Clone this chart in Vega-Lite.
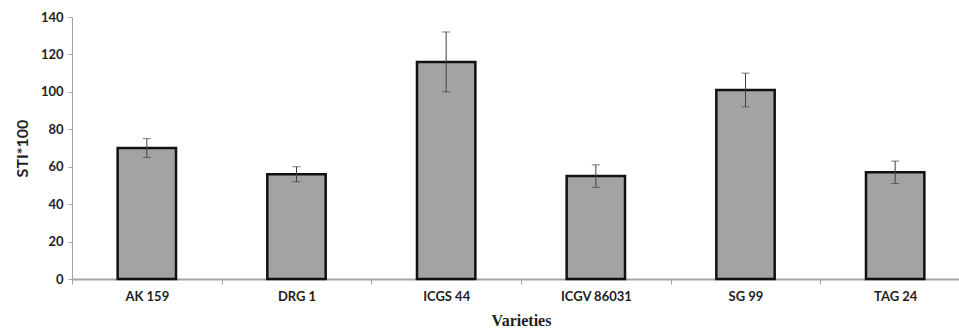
{
  "$schema": "https://vega.github.io/schema/vega-lite/v6.json",
  "autosize": {"type": "none"},
  "padding": {"left": 72, "top": 17, "right": 0, "bottom": 51},
  "width": 887,
  "height": 262,
  "background": "white",
  "data": {
    "values": [
      {"variety": "AK 159", "sti": 70, "low": 65, "high": 75},
      {"variety": "DRG 1", "sti": 56, "low": 52, "high": 60},
      {"variety": "ICGS 44", "sti": 116, "low": 100, "high": 132},
      {"variety": "ICGV 86031", "sti": 55, "low": 49, "high": 61},
      {"variety": "SG 99", "sti": 101, "low": 92, "high": 110},
      {"variety": "TAG 24", "sti": 57, "low": 51, "high": 63}
    ]
  },
  "config": {
    "view": {"stroke": null},
    "axis": {
      "labelFont": "Lato",
      "labelFontWeight": "bold",
      "labelColor": "#1e1e1e",
      "titleColor": "#1e1e1e",
      "domainColor": "#a6a6a6",
      "tickColor": "#a6a6a6",
      "grid": false,
      "zindex": 1
    },
    "axisY": {
      "labelOverlap": false,
      "labelFontSize": 13,
      "labelPadding": 5,
      "tickSize": 4,
      "domainWidth": 1,
      "titleFont": "Lato",
      "titleFontWeight": "bold",
      "titleFontSize": 16,
      "titleX": -50,
      "titleY": 131,
      "titleBaseline": "middle"
    }
  },
  "encoding": {
    "x": {
      "field": "variety",
      "type": "nominal",
      "sort": null,
      "scale": {"type": "band", "range": [0, 898], "paddingInner": 0, "paddingOuter": 0},
      "axis": {
        "title": "Varieties",
        "titleFont": "Liberation Serif",
        "titleFontWeight": "bold",
        "titleFontSize": 16,
        "titleX": 449,
        "titleY": 46,
        "titleBaseline": "alphabetic",
        "labelAngle": 0,
        "labelFontSize": 13,
        "labelPadding": 6,
        "tickBand": "extent",
        "tickSize": 5,
        "domainWidth": 2
      }
    }
  },
  "layer": [
    {
      "mark": {"type": "bar", "fill": "#a3a3a3", "stroke": "#111111", "strokeWidth": 2.5, "width": {"band": 0.39}},
      "encoding": {
        "y": {
          "field": "sti",
          "type": "quantitative",
          "scale": {"domain": [0, 140]},
          "axis": {"title": "STI*100", "values": [0, 20, 40, 60, 80, 100, 120, 140]}
        }
      }
    },
    {
      "mark": {"type": "rule", "color": "#404040", "strokeWidth": 1},
      "encoding": {
        "y": {"field": "low", "type": "quantitative", "axis": {"title": "STI*100", "values": [0, 20, 40, 60, 80, 100, 120, 140]}},
        "y2": {"field": "high"}
      }
    },
    {
      "mark": {"type": "tick", "color": "#404040", "size": 8, "thickness": 1},
      "encoding": {"y": {"field": "high", "type": "quantitative", "axis": {"title": "STI*100", "values": [0, 20, 40, 60, 80, 100, 120, 140]}}}
    },
    {
      "mark": {"type": "tick", "color": "#404040", "size": 8, "thickness": 1},
      "encoding": {"y": {"field": "low", "type": "quantitative", "axis": {"title": "STI*100", "values": [0, 20, 40, 60, 80, 100, 120, 140]}}}
    }
  ]
}
